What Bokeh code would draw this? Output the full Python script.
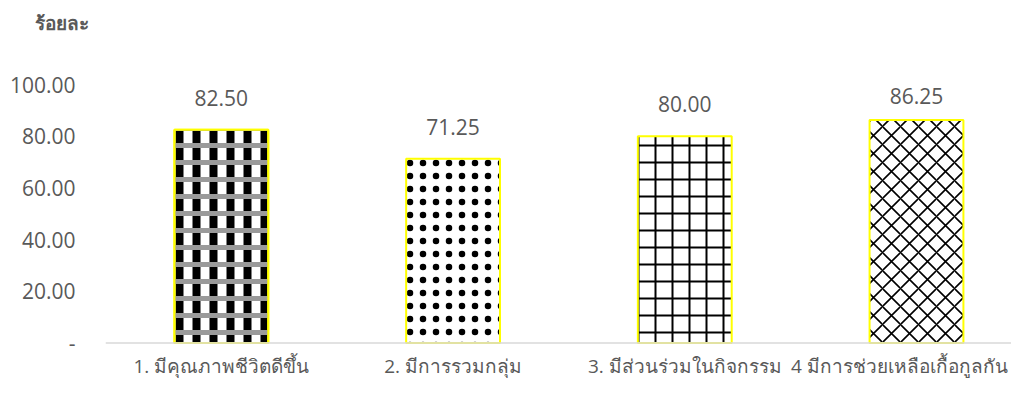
from bokeh.plotting import figure
from bokeh.models import (ColumnDataSource, Range1d, FixedTicker, LabelSet, Span,
                          CustomJSTickFormatter)
from bokeh.core.properties import value
from bokeh.embed import file_html
from bokeh.resources import INLINE

categories = ["1. มีคุณภาพชีวิตดีขึ้น", "2. มีการรวมกลุ่ม", "3. มีส่วนร่วมในกิจกรรม", "4 มีการช่วยเหลือเกื้อกูลกัน"]
values = [82.50, 71.25, 80.00, 86.25]
y_ticks = [0, 20, 40, 60, 80, 100]
unit_label = "ร้อยละ"

FONT = "Open Sans"
GREY = "#595959"

xs = list(range(len(categories)))
# value labels sit above each bar, but never above the top of the plot area
label_y = [min(v + 12.4, 95.4) for v in values]
src = ColumnDataSource(dict(x=xs, top=values, ly=label_y, lab=["%.2f" % v for v in values]))
cat_src = ColumnDataSource(dict(x=xs, y=[0] * len(xs), lab=categories))

p = figure(width=1011, height=380, output_backend="svg", toolbar_location=None,
           x_range=Range1d(-0.5, 3.41), y_range=Range1d(-14.5, 100),
           min_border_left=105, min_border_right=0, min_border_top=84, min_border_bottom=0,
           outline_line_color=None)
p.grid.visible = False
p.background_fill_color = "white"
p.border_fill_color = "white"
p.xaxis.visible = False

# title: two empty trailing lines lift it towards the top edge
p.title.text = unit_label + "\n\n"
p.title.align = "left"
p.title.offset = -71
p.title.standoff = 4
p.title.text_line_height = 0.9
p.title.text_font = FONT
p.title.text_font_size = "19px"
p.title.text_font_style = "bold"
p.title.text_color = GREY

hatch_cfg = [
    dict(hatch_pattern="|", hatch_scale=17, hatch_weight=8),
    dict(hatch_pattern=".", hatch_scale=13, hatch_weight=1.0),
    dict(hatch_pattern="+", hatch_scale=17, hatch_weight=2),
    dict(hatch_pattern="x", hatch_scale=18, hatch_weight=1.6),
]
for i, cfg in enumerate(hatch_cfg):
    view = ColumnDataSource(dict(x=[xs[i]], top=[values[i]]))
    p.vbar(x="x", top="top", width=0.405, bottom=0, source=view,
           fill_color="white", line_color="#FFFF00", line_width=2,
           hatch_color="black", **cfg)
    if i == 0:
        p.vbar(x="x", top="top", width=0.405, bottom=0, source=view,
               fill_alpha=0, line_color="#FFFF00", line_width=2,
               hatch_color="#9a9a9a", hatch_pattern="-", hatch_scale=17, hatch_weight=5)

# baseline (category axis line)
p.add_layout(Span(location=0, dimension="width", line_color="#D9D9D9", line_width=1.5))

p.add_layout(LabelSet(x="x", y="ly", text="lab", source=src,
                      text_align="center", text_baseline="middle",
                      text_font=value(FONT), text_font_size=value("21px"), text_color=GREY))

cat_src.data["xo"] = [0, 0, 0, -17]
p.add_layout(LabelSet(x="x", y="y", text="lab", source=cat_src, x_offset="xo", y_offset=-23,
                      text_align="center", text_baseline="middle",
                      text_font=value(FONT), text_font_size=value("19px"), text_color=GREY))

ya = p.yaxis[0]
ya.ticker = FixedTicker(ticks=y_ticks)
ya.formatter = CustomJSTickFormatter(code="return tick == 0 ? '-' : tick.toFixed(2);")
ya.major_tick_line_color = None
ya.minor_tick_line_color = None
ya.axis_line_color = None
ya.major_label_standoff = 24
ya.major_label_text_font = FONT
ya.major_label_text_font_size = "21px"
ya.major_label_text_color = GREY

open("out.html", "w").write(file_html(p, INLINE))
